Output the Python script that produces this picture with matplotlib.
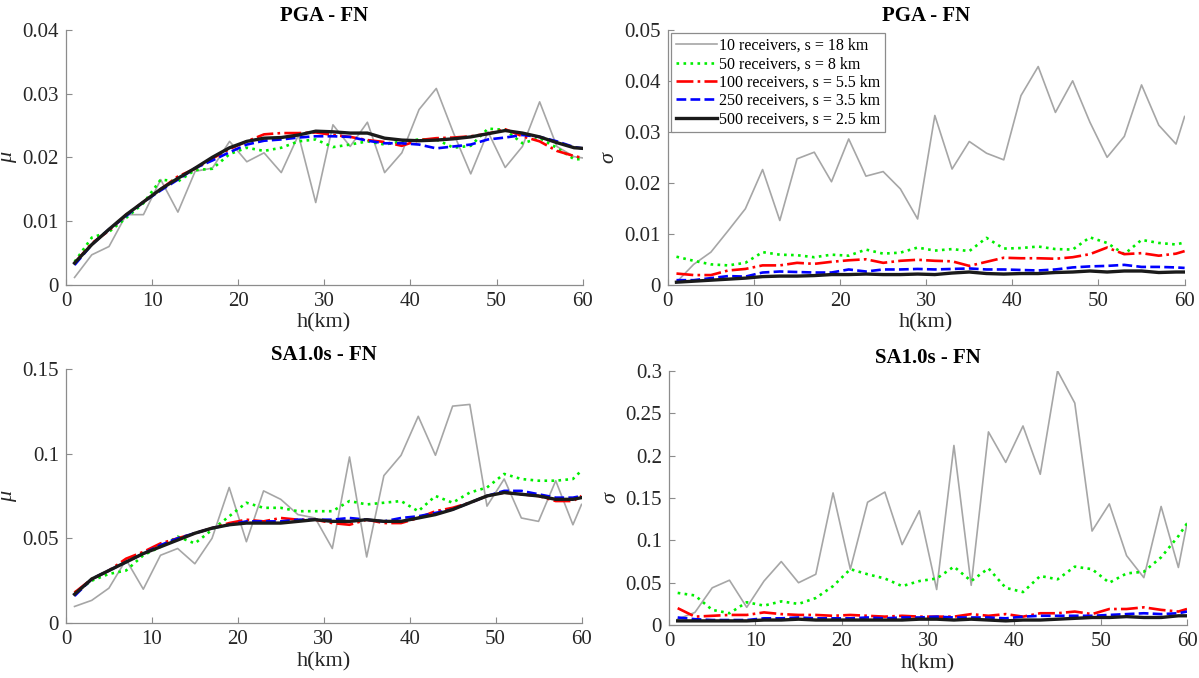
import numpy as np
import matplotlib
matplotlib.use("Agg")
import matplotlib.pyplot as plt

plt.rcParams['font.family'] = ['Liberation Serif', 'DejaVu Serif']

# source depth h (km)
h = [1, 3, 5, 7, 9, 11, 13, 15, 17, 19, 21, 23, 25, 27, 29, 31, 33, 35, 37, 39,
     41, 43, 45, 47, 49, 51, 53, 55, 57, 59, 60]

labels = ["10 receivers, s = 18 km", "50 receivers, s = 8 km",
          "100 receivers, s = 5.5 km", "250 receivers, s = 3.5 km",
          "500 receivers, s = 2.5 km"]

# ---- PGA - FN, mean ----
pga_mu_10 = [0.00115, 0.0047, 0.006, 0.011, 0.011, 0.0165, 0.0114, 0.0178, 0.0183, 0.0225,
             0.0193, 0.0207, 0.0176, 0.0235, 0.0129, 0.0251, 0.0217, 0.0255, 0.0176, 0.0207,
             0.0275, 0.0308, 0.0238, 0.0174, 0.024, 0.0184, 0.0217, 0.0287, 0.0217, 0.0201, 0.0199]
pga_mu_50 = [0.0036, 0.0074, 0.0083, 0.0105, 0.0128, 0.0165, 0.0162, 0.018, 0.0182, 0.0205,
             0.0215, 0.021, 0.0215, 0.0225, 0.0228, 0.0216, 0.022, 0.0225, 0.022, 0.0225,
             0.0228, 0.0228, 0.0215, 0.0218, 0.0245, 0.0243, 0.0222, 0.023, 0.0215, 0.0197, 0.0197]
pga_mu_100 = [0.0034, 0.0065, 0.0085, 0.011, 0.013, 0.015, 0.017, 0.0182, 0.0198, 0.0213,
              0.0225, 0.0236, 0.0238, 0.0238, 0.0239, 0.0235, 0.0232, 0.0227, 0.0224, 0.0218,
              0.0227, 0.023, 0.0231, 0.0233, 0.0237, 0.0244, 0.0233, 0.0225, 0.021, 0.0202, 0.0199]
pga_mu_250 = [0.0031, 0.0063, 0.0087, 0.0108, 0.013, 0.0148, 0.0165, 0.0183, 0.0195, 0.0208,
              0.022, 0.0226, 0.0228, 0.0231, 0.0233, 0.0233, 0.0232, 0.0226, 0.0222, 0.0222,
              0.022, 0.0214, 0.0217, 0.022, 0.0228, 0.0231, 0.0235, 0.0232, 0.0225, 0.0216, 0.0214]
pga_mu_500 = [0.0034, 0.0063, 0.0087, 0.011, 0.013, 0.015, 0.0167, 0.0183, 0.02, 0.0215,
              0.0225, 0.023, 0.0231, 0.0235, 0.0241, 0.024, 0.0238, 0.0238, 0.023, 0.0227,
              0.0226, 0.0227, 0.0229, 0.0232, 0.0237, 0.0242, 0.0238, 0.0232, 0.0223, 0.0215, 0.0214]

# ---- PGA - FN, standard deviation ----
pga_sd_10 = [0.0005, 0.004, 0.0064, 0.0106, 0.0149, 0.0226, 0.0126, 0.0247, 0.026, 0.0202,
             0.0286, 0.0213, 0.0222, 0.0188, 0.0129, 0.0332, 0.0227, 0.0281, 0.0258, 0.0245,
             0.0371, 0.0428, 0.0338, 0.04, 0.0319, 0.025, 0.0291, 0.0392, 0.0313, 0.0276, 0.033]
pga_sd_50 = [0.0055, 0.0047, 0.004, 0.0038, 0.0043, 0.0064, 0.0059, 0.0058, 0.0054, 0.0059,
             0.0057, 0.0069, 0.0061, 0.0063, 0.0073, 0.0067, 0.007, 0.0066, 0.0092, 0.0071,
             0.0072, 0.0075, 0.007, 0.0069, 0.0093, 0.0082, 0.006, 0.0088, 0.0082, 0.0079, 0.0083]
pga_sd_100 = [0.0022, 0.0019, 0.0019, 0.0028, 0.0031, 0.0038, 0.0038, 0.0043, 0.0041, 0.0045,
              0.0048, 0.005, 0.0043, 0.0047, 0.0049, 0.0047, 0.0046, 0.0037, 0.0045, 0.0053,
              0.0052, 0.0052, 0.0051, 0.0054, 0.006, 0.0073, 0.006, 0.0062, 0.0057, 0.0061, 0.0066]
pga_sd_250 = [0.0009, 0.0009, 0.0013, 0.0017, 0.0016, 0.0024, 0.0026, 0.0025, 0.0024, 0.0024,
              0.003, 0.0026, 0.003, 0.003, 0.0031, 0.003, 0.0031, 0.0032, 0.003, 0.003,
              0.0029, 0.0028, 0.003, 0.0034, 0.0036, 0.0037, 0.0039, 0.0035, 0.0035, 0.0034, 0.0033]
pga_sd_500 = [0.0005, 0.0007, 0.0009, 0.0011, 0.0013, 0.0016, 0.0017, 0.0017, 0.0018, 0.002,
              0.002, 0.0021, 0.002, 0.002, 0.0021, 0.002, 0.0023, 0.0025, 0.0022, 0.0021,
              0.0022, 0.0022, 0.0024, 0.0025, 0.0027, 0.0025, 0.0027, 0.0027, 0.0024, 0.0025, 0.0025]

# ---- SA1.0s - FN, mean ----
sa_mu_10 = [0.0098, 0.0134, 0.0206, 0.0374, 0.02, 0.04, 0.044, 0.035, 0.05, 0.08,
            0.048, 0.078, 0.073, 0.064, 0.062, 0.044, 0.098, 0.039, 0.087, 0.099,
            0.122, 0.099, 0.128, 0.129, 0.069, 0.085, 0.062, 0.06, 0.084, 0.058, 0.07]
sa_mu_50 = [0.018, 0.025, 0.029, 0.031, 0.04, 0.045, 0.051, 0.047, 0.055, 0.063,
            0.071, 0.068, 0.068, 0.066, 0.066, 0.066, 0.072, 0.070, 0.071, 0.072,
            0.066, 0.075, 0.071, 0.077, 0.080, 0.088, 0.085, 0.084, 0.084, 0.085, 0.09]
sa_mu_100 = [0.018, 0.026, 0.031, 0.038, 0.042, 0.047, 0.05, 0.053, 0.056, 0.059,
             0.061, 0.06, 0.062, 0.061, 0.061, 0.059, 0.058, 0.061, 0.059, 0.059,
             0.062, 0.066, 0.068, 0.071, 0.075, 0.077, 0.076, 0.075, 0.072, 0.072, 0.075]
sa_mu_250 = [0.016, 0.026, 0.031, 0.036, 0.041, 0.046, 0.050, 0.053, 0.056, 0.058,
             0.06, 0.06, 0.06, 0.061, 0.061, 0.061, 0.062, 0.061, 0.06, 0.062,
             0.063, 0.065, 0.067, 0.071, 0.075, 0.078, 0.078, 0.076, 0.074, 0.074, 0.075]
sa_mu_500 = [0.017, 0.026, 0.031, 0.036, 0.041, 0.045, 0.049, 0.053, 0.056, 0.058,
             0.059, 0.059, 0.059, 0.06, 0.061, 0.06, 0.06, 0.061, 0.06, 0.06,
             0.062, 0.064, 0.067, 0.071, 0.075, 0.077, 0.076, 0.075, 0.073, 0.073, 0.074]

# ---- SA1.0s - FN, standard deviation ----
sa_sd_10 = [0.007, 0.015, 0.044, 0.053, 0.021, 0.052, 0.075, 0.05, 0.06, 0.156,
            0.066, 0.145, 0.157, 0.095, 0.135, 0.042, 0.212, 0.047, 0.228, 0.192,
            0.235, 0.178, 0.30, 0.262, 0.111, 0.143, 0.082, 0.056, 0.14, 0.068, 0.12]
sa_sd_50 = [0.038, 0.035, 0.018, 0.014, 0.027, 0.023, 0.028, 0.025, 0.032, 0.046,
            0.066, 0.060, 0.055, 0.046, 0.052, 0.055, 0.069, 0.052, 0.067, 0.044,
            0.039, 0.058, 0.054, 0.069, 0.066, 0.05, 0.061, 0.063, 0.08, 0.105, 0.12]
sa_sd_100 = [0.020, 0.01, 0.011, 0.012, 0.012, 0.015, 0.013, 0.012, 0.012, 0.011,
             0.012, 0.011, 0.01, 0.011, 0.01, 0.01, 0.01, 0.013, 0.011, 0.013,
             0.01, 0.014, 0.014, 0.016, 0.013, 0.019, 0.019, 0.021, 0.018, 0.016, 0.019]
sa_sd_250 = [0.009, 0.007, 0.006, 0.006, 0.006, 0.008, 0.008, 0.009, 0.008, 0.008,
             0.008, 0.009, 0.008, 0.009, 0.009, 0.01, 0.009, 0.009, 0.009, 0.008,
             0.01, 0.011, 0.011, 0.011, 0.011, 0.012, 0.013, 0.014, 0.013, 0.014, 0.016]
sa_sd_500 = [0.005, 0.005, 0.005, 0.005, 0.005, 0.006, 0.006, 0.007, 0.006, 0.006,
             0.006, 0.006, 0.006, 0.006, 0.007, 0.007, 0.006, 0.007, 0.006, 0.005,
             0.006, 0.006, 0.007, 0.008, 0.009, 0.009, 0.01, 0.009, 0.009, 0.011, 0.011]

# line styles for the five receiver densities
styles = [dict(color="#a6a6a6", ls="-", lw=1.2),
          dict(color="#00ee00", ls=":", lw=1.9),
          dict(color="#ff0000", ls="-.", lw=1.9),
          dict(color="#0000ff", ls="--", lw=1.9),
          dict(color="#1a1a1a", ls="-", lw=2.4)]

panels = [
    ([0.055, 0.580, 0.431, 0.376], "PGA - FN", "\u03bc", [0, 0.04], [0, 0.01, 0.02, 0.03, 0.04],
     [pga_mu_10, pga_mu_50, pga_mu_100, pga_mu_250, pga_mu_500]),
    ([0.557, 0.580, 0.431, 0.376], "PGA - FN", "\u03c3", [0, 0.05], [0, 0.01, 0.02, 0.03, 0.04, 0.05],
     [pga_sd_10, pga_sd_50, pga_sd_100, pga_sd_250, pga_sd_500]),
    ([0.055, 0.081, 0.430, 0.375], "SA1.0s - FN", "\u03bc", [0, 0.15], [0, 0.05, 0.1, 0.15],
     [sa_mu_10, sa_mu_50, sa_mu_100, sa_mu_250, sa_mu_500]),
    ([0.558, 0.078, 0.432, 0.375], "SA1.0s - FN", "\u03c3", [0, 0.3], [0, 0.05, 0.1, 0.15, 0.2, 0.25, 0.3],
     [sa_sd_10, sa_sd_50, sa_sd_100, sa_sd_250, sa_sd_500]),
]

fsize = 15
fig = plt.figure(figsize=(11.99, 6.78), dpi=100)

for k, (pos, title, ylab, ylim, yticks, series) in enumerate(panels):
    ax = fig.add_axes(pos)
    for vals, st, lab in zip(series, styles, labels):
        ax.plot(h, vals, label=lab, **st)
    ax.set_xlim(0, 60)
    ax.set_ylim(ylim)
    ax.set_xticks([0, 10, 20, 30, 40, 50, 60])
    ax.set_yticks(yticks)
    ax.set_yticklabels(["0"] + ["%g" % t for t in yticks[1:]])
    ax.spines["top"].set_visible(False)
    ax.spines["right"].set_visible(False)
    for s in ("left", "bottom"):
        ax.spines[s].set_color("#8c8c8c")
        ax.spines[s].set_linewidth(0.9)
    ax.tick_params(direction="in", length=4, color="#8c8c8c", labelsize=fsize,
                   labelcolor="#262626", pad=5)
    ax.set_title(title, fontsize=fsize, fontweight="bold", pad=6)
    ax.set_xlabel("h(km)", fontsize=fsize + 1, color="#262626", labelpad=2)
    ax.set_ylabel(ylab, fontsize=fsize + 1, style="italic", color="#262626", labelpad=4)
    if k == 1:
        leg = ax.legend(loc="upper left", fontsize=11.5, handlelength=2.6, handletextpad=0.1,
                        borderpad=0.3, labelspacing=0.15, borderaxespad=0.2, fancybox=False,
                        framealpha=1.0, edgecolor="#8c8c8c")
        leg.get_frame().set_linewidth(0.9)

plt.savefig("out.png", dpi=100)
